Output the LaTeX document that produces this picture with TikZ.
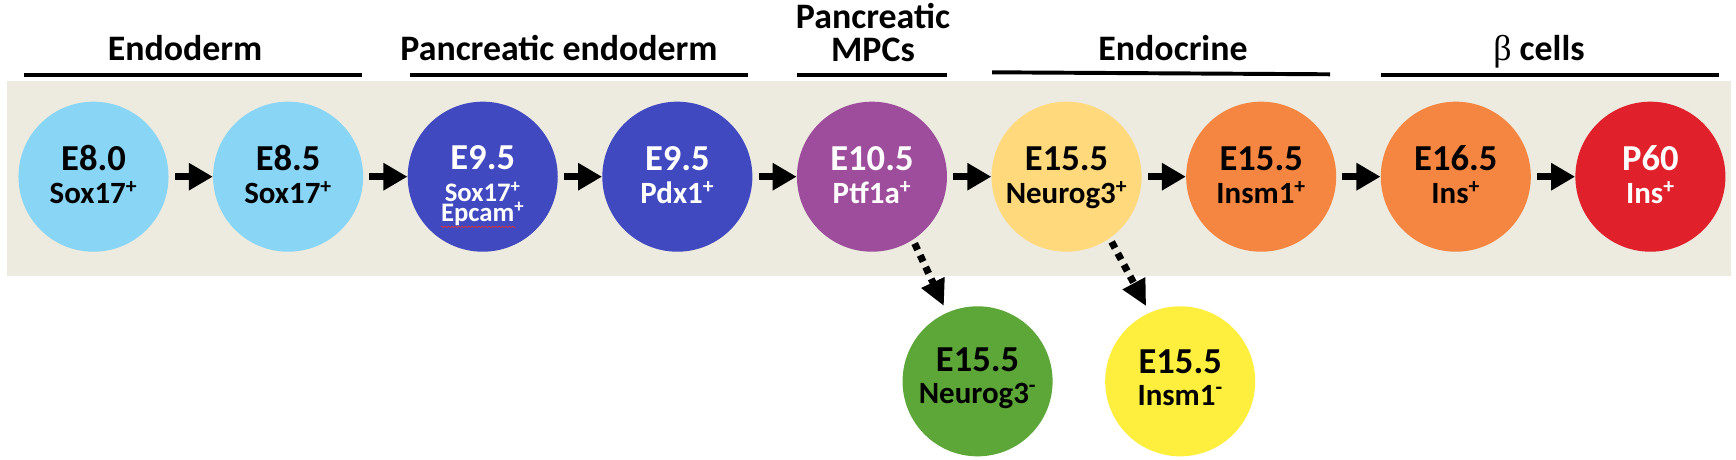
\documentclass[tikz,border=0pt]{standalone}
\usepackage{fontspec}
\setmainfont{Carlito}
\newfontfamily\greekfont{Liberation Serif}
\usetikzlibrary{arrows.meta, positioning, decorations.pathmorphing}
\definecolor{bandbeige}{HTML}{EDEBE0}
\definecolor{endoblue}{HTML}{88D5F6}
\definecolor{pancblue}{HTML}{4149C0}
\definecolor{mpcpurple}{HTML}{9D4D9B}
\definecolor{ngnyellow}{HTML}{FFD97B}
\definecolor{insmorange}{HTML}{F58642}
\definecolor{betared}{HTML}{E0202A}
\definecolor{negreen}{HTML}{5DA638}
\definecolor{neyellow}{HTML}{FEEF3F}
\definecolor{spellred}{HTML}{E03030}
\newcommand{\pos}{\textsuperscript{+}}
\newcommand{\negt}{\textsuperscript{-}}

\begin{document}
\begin{tikzpicture}[
    x=0.025cm, y=0.025cm,
    % ── Node styles ──
    stage/.style={circle, minimum size=3.75cm, inner sep=0pt},
    hdr/.style={
        font=\fontsize{25.5}{25.5}\selectfont\bfseries,
        inner sep=0pt, anchor=base
    },
    tline/.style={
        font=\fontsize{26}{26}\selectfont\bfseries,
        inner sep=0pt, anchor=base
    },
    mline/.style={
        font=\fontsize{22}{22}\selectfont\bfseries,
        inner sep=0pt, anchor=base
    },
    sline/.style={
        font=\fontsize{19}{19}\selectfont\bfseries,
        inner sep=0pt, anchor=base, text height=12.5pt
    },
    onwhite/.style={text=white},
    bar/.style={line width=2.8pt},
    % ── Arrow styles ──
    flow/.style={
        -{Triangle[length=0.6cm, width=0.65cm]},
        line width=5.3pt, shorten <=0.15cm
    },
    dotflow/.style={
        -{Triangle[length=0.65cm, width=0.6cm]},
        line width=5pt, dash pattern=on 0.175cm off 0.15cm,
        shorten <=0.1cm, shorten >=0.18cm
    }
]
\useasboundingbox (0,0) rectangle (1736,460);

% Background band
\fill[bandbeige] (7,184) rectangle (1731,379);

% ═══ Stage headers ═══
\node[hdr] (hendo) at (185,399) {Endoderm};
\draw[bar] (24,385) -- (362,385);
\node[hdr] (hpanc) at (559,399) {Pancreatic endoderm};
\draw[bar] (410,385) -- (748,385);
\node[hdr] (hmpc1) at (873,431) {Pancreatic};
\node[hdr] (hmpc2) at (873,398) {MPCs};
\draw[bar] (797,385) -- (947,385);
\node[hdr] (hendocr) at (1173,399) {Endocrine};
\draw[bar] (992,387.7) -- (1330,385.7);
\node[hdr] (hbeta) at (1539,399) {{\greekfont\mdseries β} cells};
\draw[bar] (1381,385) -- (1719,385);

% ═══ Main lineage ═══
\node[stage, fill=endoblue] (e80) at (93.5,283.3) {};
\node[stage, fill=endoblue, right=1.1cm of e80] (e85) {};
\node[stage, fill=pancblue, right=1.1cm of e85] (e95a) {};
\node[stage, fill=pancblue, right=1.1cm of e95a] (e95b) {};
\node[stage, fill=mpcpurple, right=1.1cm of e95b] (p105) {};
\node[stage, fill=ngnyellow, right=1.1cm of p105] (ngn) {};
\node[stage, fill=insmorange, right=1.1cm of ngn] (insm) {};
\node[stage, fill=insmorange, right=1.1cm of insm] (ins165) {};
\node[stage, fill=betared, right=1.1cm of ins165] (p60) {};

% Side branches
\node[stage, fill=negreen, below=1.35cm of p105, xshift=2.64cm] (ngneg) {};
\node[stage, fill=neyellow, below=1.35cm of ngn, xshift=2.84cm] (insmneg) {};

% ═══ Circle texts ═══
\node[tline] (e80-t) at ([yshift=0.15cm]e80.center) {E8.0};
\node[mline] (e80-m) at ([yshift=-0.675cm]e80.center) {Sox17\pos};

\node[tline] (e85-t) at ([yshift=0.15cm]e85.center) {E8.5};
\node[mline] (e85-m) at ([yshift=-0.675cm]e85.center) {Sox17\pos};

\node[tline, onwhite] (e95a-t) at ([yshift=0.175cm]e95a.center) {E9.5};
\node[sline, onwhite] (e95a-m) at ([yshift=-0.625cm]e95a.center) {Sox17\pos};
\node[sline, onwhite] (e95a-e) at ([yshift=-1.125cm]e95a.center) {Epcam\pos};
\draw[spellred, line width=0.5pt, decorate,
      decoration={snake, amplitude=0.45pt, segment length=2.4pt}]
    ([yshift=-0.13cm]e95a-e.base west) -- ([xshift=-0.22cm, yshift=-0.13cm]e95a-e.base east);

\node[tline, onwhite] (e95b-t) at ([yshift=0.15cm]e95b.center) {E9.5};
\node[mline, onwhite] (e95b-m) at ([yshift=-0.675cm]e95b.center) {Pdx1\pos};

\node[tline, onwhite] (p105-t) at ([yshift=0.15cm]p105.center) {E10.5};
\node[mline, onwhite] (p105-m) at ([yshift=-0.675cm]p105.center) {Ptf1a\pos};

\node[tline] (ngn-t) at ([yshift=0.15cm]ngn.center) {E15.5};
\node[mline] (ngn-m) at ([yshift=-0.675cm]ngn.center) {Neurog3\pos};

\node[tline] (insm-t) at ([yshift=0.15cm]insm.center) {E15.5};
\node[mline] (insm-m) at ([yshift=-0.675cm]insm.center) {Insm1\pos};

\node[tline] (ins165-t) at ([yshift=0.15cm]ins165.center) {E16.5};
\node[mline] (ins165-m) at ([yshift=-0.675cm]ins165.center) {Ins\pos};

\node[tline, onwhite] (p60-t) at ([yshift=0.15cm]p60.center) {P60};
\node[mline, onwhite] (p60-m) at ([yshift=-0.675cm]p60.center) {Ins\pos};

\node[tline] (ngneg-t) at ([yshift=0.25cm]ngneg.center) {E15.5};
\node[mline] (ngneg-m) at ([yshift=-0.55cm]ngneg.center) {Neurog3\negt};

\node[tline] (insmneg-t) at ([yshift=0.2cm]insmneg.center) {E15.5};
\node[mline] (insmneg-m) at ([yshift=-0.6cm]insmneg.center) {Insm1\negt};

% ═══ Arrows ═══
\draw[flow] (e80)    -- (e85);
\draw[flow] (e85)    -- (e95a);
\draw[flow] (e95a)   -- (e95b);
\draw[flow] (e95b)   -- (p105);
\draw[flow] (p105)   -- (ngn);
\draw[flow] (ngn)    -- (insm);
\draw[flow] (insm)   -- (ins165);
\draw[flow] (ins165) -- (p60);

\draw[dotflow] (p105.-57) -- (ngneg.114);
\draw[dotflow] (ngn.-55)  -- (insmneg.114);

\end{tikzpicture}
\end{document}
